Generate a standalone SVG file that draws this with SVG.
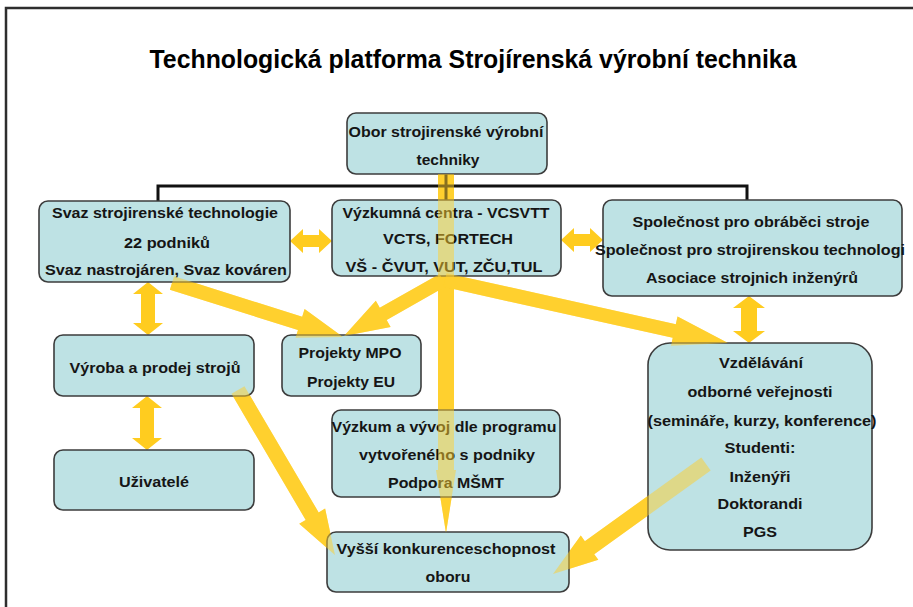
<svg xmlns="http://www.w3.org/2000/svg" xmlns:xlink="http://www.w3.org/1999/xlink" width="913" height="607" viewBox="0 0 913 607">
  <style>
    .frame { fill: none; stroke: #2e2e2e; stroke-width: 2.5; }
    .title { font-family: "Liberation Sans", Arial, sans-serif; font-weight: bold; font-size: 26px; fill: #000; text-anchor: middle; }
    .box { fill: #bee2e4; stroke: #3c3c3c; stroke-width: 1.6; }
    .lbl { font-family: "Liberation Sans", Arial, sans-serif; font-weight: bold; font-size: 15px; fill: #151515; text-anchor: middle; }
    .flow { fill: #ffd02e; }
    .link { fill: #ffcc1f; }
    .tree { fill: none; stroke: #111; stroke-width: 3; }
    .overlay use { opacity: 0.5; }
  </style>
  <defs>
    <!-- wide flow arrows, drawn in a local frame along +x -->
    <polygon id="flowA" transform="translate(172,283) rotate(17.5)" points="0,-7 134.3,-7 134.3,-15 179.3,0 134.3,15 134.3,7 0,7"/>
    <polygon id="flowB" transform="translate(443,280) rotate(150.5)" points="0,-7 68.7,-7 68.7,-15 113.7,0 68.7,15 68.7,7 0,7"/>
    <polygon id="flowC" transform="translate(445,280) rotate(12.55)" points="0,-7 234.9,-7 234.9,-15 289.9,0 234.9,15 234.9,7 0,7"/>
    <polygon id="flowV" points="438,174 454,174 454,470 456,470 446,533 436,470 438,470"/>
    <polygon id="flowD" transform="translate(238,390) rotate(59.56)" points="0,-7.5 146.4,-7.5 146.4,-15 191.4,0 146.4,15 146.4,7.5 0,7.5"/>
    <polygon id="flowE" transform="translate(706,464) rotate(144.3)" points="0,-8 143.4,-8 143.4,-15 188.4,0 143.4,15 143.4,8 0,8"/>
  </defs>

  <rect class="frame" x="6" y="8" width="1000" height="700"/>
  <text class="title" x="473" y="68" textLength="647" lengthAdjust="spacingAndGlyphs">Technologická platforma Strojírenská výrobní technika</text>

  <g id="connectors">
    <g class="flow">
      <use xlink:href="#flowV"/>
      <use xlink:href="#flowA"/>
      <use xlink:href="#flowB"/>
      <use xlink:href="#flowC"/>
      <use xlink:href="#flowD"/>
      <use xlink:href="#flowE"/>
    </g>
    <g class="link">
      <polygon points="290,241 303,229 303,235 319,235 319,229 332,241 319,253 319,247 303,247 303,253"/>
      <polygon points="561,240 574,228 574,234 590,234 590,228 603,240 590,252 590,246 574,246 574,252"/>
      <polygon points="148,282 163,294 155,294 155,323 163,323 148,335 133,323 141,323 141,294 133,294"/>
      <polygon points="147,396 162,408 154,408 154,438 162,438 147,450 132,438 140,438 140,408 132,408"/>
      <polygon points="749,296 765,308 757,308 757,331 765,331 749,343 733,331 741,331 741,308 733,308"/>
    </g>
    <path class="tree" d="M158,201 V186 H747 V200 M446,174 V200"/>
  </g>

  <g id="n-obor">
    <rect class="box" x="347" y="113" width="200" height="61" rx="9"/>
    <text class="lbl" x="446" y="137" textLength="195" lengthAdjust="spacingAndGlyphs">Obor strojirenské výrobní</text>
    <text class="lbl" x="448" y="165" textLength="63" lengthAdjust="spacingAndGlyphs">techniky</text>
  </g>

  <g id="n-svaz">
    <rect class="box" x="39" y="201" width="251" height="81" rx="9"/>
    <text class="lbl" x="165" y="218" textLength="226" lengthAdjust="spacingAndGlyphs">Svaz strojirenské technologie</text>
    <text class="lbl" x="167" y="248" textLength="86" lengthAdjust="spacingAndGlyphs">22 podniků</text>
    <text class="lbl" x="166" y="275" textLength="242" lengthAdjust="spacingAndGlyphs">Svaz nastrojáren, Svaz kováren</text>
  </g>

  <g id="n-centra">
    <rect class="box" x="332" y="200" width="229" height="76" rx="9"/>
    <text class="lbl" x="446" y="218" textLength="207" lengthAdjust="spacingAndGlyphs">Výzkumná centra - VCSVTT</text>
    <text class="lbl" x="448" y="244" textLength="130" lengthAdjust="spacingAndGlyphs">VCTS, FORTECH</text>
    <text class="lbl" x="444" y="272" textLength="197" lengthAdjust="spacingAndGlyphs">VŠ - ČVUT, VUT, ZČU,TUL</text>
  </g>

  <g id="n-spolecnost">
    <rect class="box" x="603" y="200" width="299" height="96" rx="9"/>
    <text class="lbl" x="751" y="227" textLength="237" lengthAdjust="spacingAndGlyphs">Společnost pro obráběci stroje</text>
    <text class="lbl" x="750" y="255" textLength="310" lengthAdjust="spacingAndGlyphs">Společnost pro strojirenskou technologi</text>
    <text class="lbl" x="752" y="283" textLength="212" lengthAdjust="spacingAndGlyphs">Asociace strojnich inženýrů</text>
  </g>

  <g id="n-vyroba">
    <rect class="box" x="54" y="335" width="200" height="61" rx="9"/>
    <text class="lbl" x="155" y="373" textLength="171" lengthAdjust="spacingAndGlyphs">Výroba a prodej strojů</text>
  </g>

  <g id="n-uzivatele">
    <rect class="box" x="54" y="450" width="200" height="60" rx="9"/>
    <text class="lbl" x="154" y="487" textLength="70" lengthAdjust="spacingAndGlyphs">Uživatelé</text>
  </g>

  <g id="n-projekty">
    <rect class="box" x="282" y="335" width="139" height="61" rx="9"/>
    <text class="lbl" x="350" y="358" textLength="103" lengthAdjust="spacingAndGlyphs">Projekty MPO</text>
    <text class="lbl" x="351" y="387" textLength="88" lengthAdjust="spacingAndGlyphs">Projekty EU</text>
  </g>

  <g id="n-vyvoj">
    <rect class="box" x="332" y="410" width="228" height="87" rx="9"/>
    <text class="lbl" x="444" y="432" textLength="225" lengthAdjust="spacingAndGlyphs">Výzkum a vývoj dle programu</text>
    <text class="lbl" x="447" y="460" textLength="176" lengthAdjust="spacingAndGlyphs">vytvořeného s podniky</text>
    <text class="lbl" x="446" y="488" textLength="116" lengthAdjust="spacingAndGlyphs">Podpora MŠMT</text>
  </g>

  <g id="n-konkurence">
    <rect class="box" x="327" y="532" width="242" height="60" rx="9"/>
    <text class="lbl" x="446" y="554" textLength="219" lengthAdjust="spacingAndGlyphs">Vyšší konkurenceschopnost</text>
    <text class="lbl" x="448" y="582" textLength="45" lengthAdjust="spacingAndGlyphs">oboru</text>
  </g>

  <g id="n-vzdelavani">
    <rect class="box" x="648" y="343" width="224" height="207" rx="22"/>
    <text class="lbl" x="761" y="368" textLength="84" lengthAdjust="spacingAndGlyphs">Vzdělávání</text>
    <text class="lbl" x="760" y="397" textLength="145" lengthAdjust="spacingAndGlyphs">odborné veřejnosti</text>
    <text class="lbl" x="762" y="426" textLength="229" lengthAdjust="spacingAndGlyphs">(semináře, kurzy, konference)</text>
    <text class="lbl" x="760" y="453" textLength="71" lengthAdjust="spacingAndGlyphs">Studenti:</text>
    <text class="lbl" x="760" y="482" textLength="61" lengthAdjust="spacingAndGlyphs">Inženýři</text>
    <text class="lbl" x="760" y="509" textLength="85" lengthAdjust="spacingAndGlyphs">Doktorandi</text>
    <text class="lbl" x="760" y="537" textLength="34" lengthAdjust="spacingAndGlyphs">PGS</text>
  </g>

  <!-- translucent pass of the flow arrows where they cross the boxes -->
  <g id="connector-overlay" class="flow overlay">
    <use xlink:href="#flowV"/>
    <use xlink:href="#flowA"/>
    <use xlink:href="#flowB"/>
    <use xlink:href="#flowC"/>
    <use xlink:href="#flowD"/>
    <use xlink:href="#flowE"/>
  </g>
</svg>
